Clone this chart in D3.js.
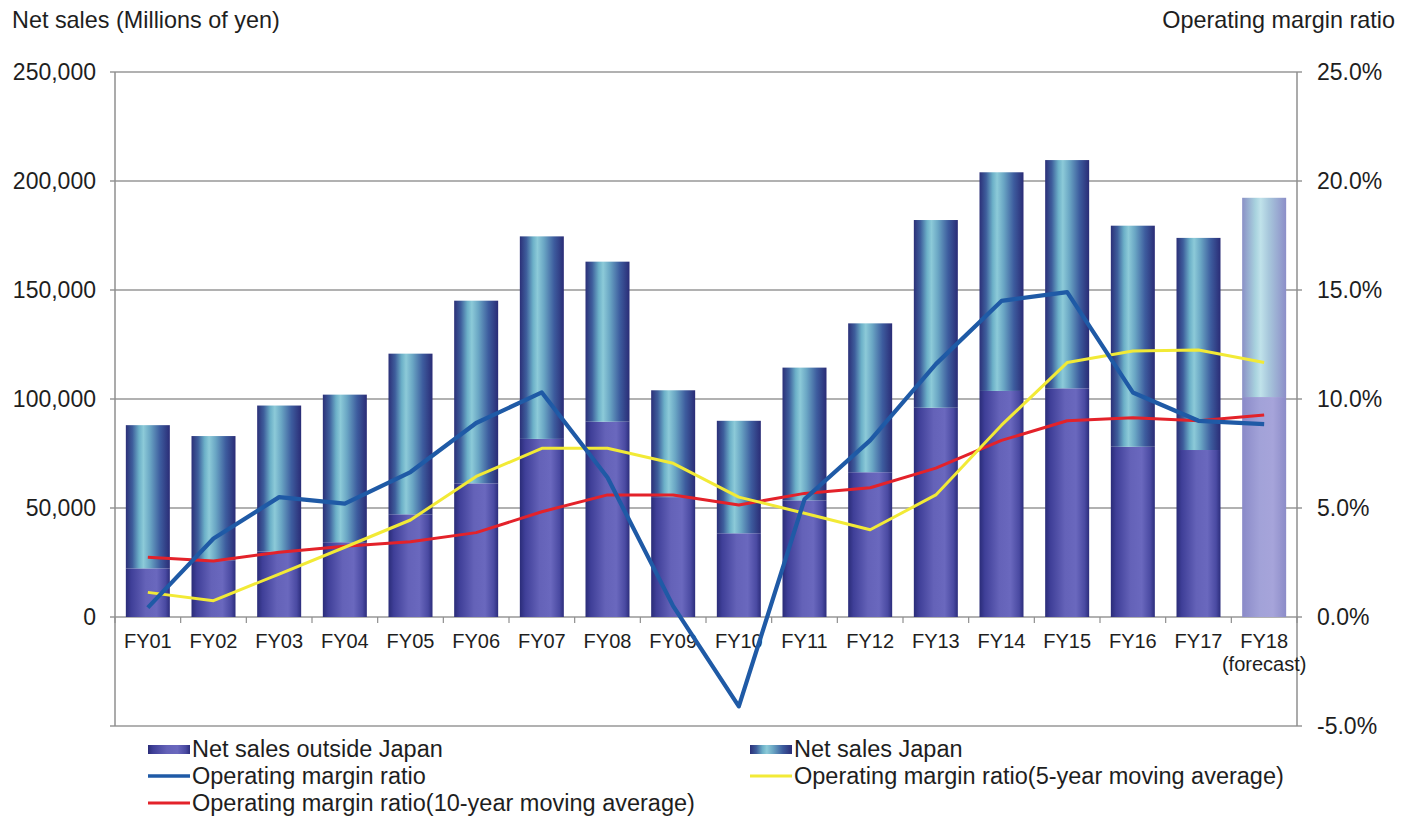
<!DOCTYPE html>
<html>
<head>
<meta charset="utf-8">
<script src="https://cdn.jsdelivr.net/npm/d3@7"></script>
<style>
  html, body { margin: 0; padding: 0; background: #ffffff; }
  svg { display: block; font-family: "Liberation Sans", Arial, sans-serif; }
</style>
</head>
<body>
<svg id="chart" width="1412" height="821"></svg>
<script>
// Fiscal years
const categories = ["FY01","FY02","FY03","FY04","FY05","FY06","FY07","FY08","FY09",
                    "FY10","FY11","FY12","FY13","FY14","FY15","FY16","FY17","FY18"];
const forecastNote = "(forecast)";

// Net sales, millions of yen
const salesOutsideJapan = [22300, 26000, 30000, 34300, 47100, 61300, 81700, 89600, 55000,
                           38400, 53500, 66400, 96000, 103700, 104900, 78100, 76600, 100900];
const salesJapan = [65700, 57000, 67000, 67700, 73700, 83800, 92900, 73400, 49000,
                    51600, 60900, 68300, 86100, 100300, 104700, 101400, 97300, 91400];

// Operating margin ratio, percent
const opMargin = [0.43, 3.6, 5.5, 5.2, 6.65, 8.9, 10.3, 6.4, 0.5,
                  -4.1, 5.4, 8.1, 11.6, 14.5, 14.9, 10.3, 9.0, 8.85];
const opMargin5y = [1.13, 0.75, 1.97, 3.2, 4.45, 6.45, 7.74, 7.74, 7.05,
                    5.5, 4.76, 4.0, 5.6, 8.8, 11.67, 12.2, 12.25, 11.67];
const opMargin10y = [2.74, 2.57, 2.97, 3.25, 3.45, 3.87, 4.83, 5.6, 5.6,
                     5.14, 5.67, 5.93, 6.83, 8.1, 9.0, 9.14, 9.0, 9.27];

// Axis ticks
const salesTicks = [-50000, 0, 50000, 100000, 150000, 200000, 250000];
const salesTickLabels = ["", "0", "50,000", "100,000", "150,000", "200,000", "250,000"];
const marginTicks = [-5, 0, 5, 10, 15, 20, 25];
const marginTickLabels = ["-5.0%", "0.0%", "5.0%", "10.0%", "15.0%", "20.0%", "25.0%"];

const forecastIndex = 17;

(function () {
  const svg = d3.select("#chart");
  const plotLeft = 115, plotRight = 1297, plotTop = 72, plotBottom = 726;

  const x = d3.scaleBand().domain(categories).range([plotLeft, plotRight])
    .paddingInner(0.33).paddingOuter(0.165);
  const yL = d3.scaleLinear().domain([-50000, 250000]).range([plotBottom, plotTop]);
  const yR = d3.scaleLinear().domain([-5, 25]).range([plotBottom, plotTop]);

  // Bar gradients
  const defs = svg.append("defs");
  function grad(id, stops) {
    const g = defs.append("linearGradient").attr("id", id)
      .attr("x1", "0%").attr("x2", "100%").attr("y1", "0%").attr("y2", "0%");
    stops.forEach(([o, c]) => g.append("stop").attr("offset", o).attr("stop-color", c));
  }
  grad("gOut", [[0, "#2a2c78"], [0.12, "#3f3f98"], [0.45, "#6462b8"], [0.7, "#6a68be"], [0.9, "#4a4aa2"], [1, "#2c2d7c"]]);
  grad("gJp", [[0, "#2b3078"], [0.15, "#3e5e9c"], [0.3, "#6cb0c8"], [0.4, "#8ccad8"], [0.55, "#6aa6c4"], [0.78, "#3d5c9e"], [1, "#2a2c76"]]);
  grad("gOutF", [[0, "#8a8ac8"], [0.4, "#a2a2d8"], [0.7, "#a6a4da"], [1, "#8c8cc8"]]);
  grad("gJpF", [[0, "#8a90c6"], [0.3, "#a8d2de"], [0.42, "#c0e2ea"], [0.6, "#a8c8dc"], [1, "#8c8ec8"]]);

  // Gridlines
  svg.append("g").selectAll("line").data(salesTicks).join("line")
    .attr("x1", plotLeft - 5).attr("x2", plotRight + 5)
    .attr("y1", d => yL(d)).attr("y2", d => yL(d))
    .attr("stroke", "#979797").attr("stroke-width", 1.5);

  // Stacked bars: outside Japan at the bottom, Japan on top
  const bars = svg.append("g");
  categories.forEach((c, i) => {
    const bx = x(c), bw = x.bandwidth();
    const f = i === forecastIndex;
    const outTop = yL(salesOutsideJapan[i]);
    const jpTop = yL(salesOutsideJapan[i] + salesJapan[i]);
    bars.append("rect").attr("x", bx).attr("width", bw)
      .attr("y", outTop).attr("height", yL(0) - outTop)
      .attr("fill", f ? "url(#gOutF)" : "url(#gOut)");
    bars.append("rect").attr("x", bx).attr("width", bw)
      .attr("y", jpTop).attr("height", outTop - jpTop)
      .attr("fill", f ? "url(#gJpF)" : "url(#gJp)");
  });

  // Vertical axes
  const axisColor = "#8f8f8f";
  [plotLeft, plotRight].forEach(ax => {
    svg.append("line").attr("x1", ax).attr("x2", ax).attr("y1", plotTop).attr("y2", plotBottom)
      .attr("stroke", axisColor).attr("stroke-width", 1.5);
  });

  // Category tick marks on the zero line
  const bounds = d3.range(categories.length + 1).map(k => plotLeft + k * x.step());
  svg.append("g").selectAll("line").data(bounds).join("line")
    .attr("x1", d => d).attr("x2", d => d)
    .attr("y1", yL(0)).attr("y2", yL(0) + 6)
    .attr("stroke", axisColor).attr("stroke-width", 1.2);

  // Left axis labels
  svg.append("g").selectAll("text").data(salesTicks).join("text")
    .attr("x", 96).attr("y", d => yL(d)).attr("dy", "0.36em")
    .attr("text-anchor", "end").attr("font-size", 23).attr("fill", "#1e1e1e")
    .text((d, i) => salesTickLabels[i]);

  // Right axis labels
  svg.append("g").selectAll("text").data(marginTicks).join("text")
    .attr("x", 1317).attr("y", d => yR(d)).attr("dy", "0.36em")
    .attr("text-anchor", "start").attr("font-size", 23).attr("fill", "#1e1e1e")
    .text((d, i) => marginTickLabels[i]);

  // Category labels
  const xl = svg.append("g");
  categories.forEach((c, i) => {
    const cx = x(c) + x.bandwidth() / 2;
    xl.append("text").attr("x", cx).attr("y", 648).attr("text-anchor", "middle")
      .attr("font-size", 20).attr("fill", "#1e1e1e").text(c);
    if (i === forecastIndex) {
      xl.append("text").attr("x", cx).attr("y", 671).attr("text-anchor", "middle")
        .attr("font-size", 20).attr("fill", "#1e1e1e").text(forecastNote);
    }
  });

  // Axis titles
  svg.append("text").attr("x", 12).attr("y", 28).attr("font-size", 23.4).attr("fill", "#1e1e1e")
    .text("Net sales (Millions of yen)");
  svg.append("text").attr("x", 1395).attr("y", 28).attr("text-anchor", "end")
    .attr("font-size", 23.4).attr("fill", "#1e1e1e").text("Operating margin ratio");

  // Margin lines
  const lineGen = d3.line().x((d, i) => x(categories[i]) + x.bandwidth() / 2).y(d => yR(d));
  function drawLine(data, color, width) {
    svg.append("path").datum(data).attr("d", lineGen)
      .attr("fill", "none").attr("stroke", color).attr("stroke-width", width)
      .attr("stroke-linejoin", "round");
  }
  drawLine(opMargin10y, "#e3222a", 3);
  drawLine(opMargin5y, "#f2ea36", 3);
  drawLine(opMargin, "#1f5aa6", 4.2);

  // Legend
  const legend = svg.append("g").attr("font-size", 23.5).attr("fill", "#1e1e1e");
  const items = [
    { label: "Net sales outside Japan", type: "rect", fill: "url(#gOut)", x: 148, y: 757 },
    { label: "Net sales Japan", type: "rect", fill: "url(#gJp)", x: 750, y: 757 },
    { label: "Operating margin ratio", type: "line", color: "#1f5aa6", w: 3.5, x: 148, y: 784 },
    { label: "Operating margin ratio(5-year moving average)", type: "line", color: "#f2ea36", w: 3, x: 750, y: 784 },
    { label: "Operating margin ratio(10-year moving average)", type: "line", color: "#e3222a", w: 3, x: 148, y: 811 }
  ];
  items.forEach(it => {
    if (it.type === "rect") {
      legend.append("rect").attr("x", it.x).attr("y", it.y - 12).attr("width", 42).attr("height", 9)
        .attr("fill", it.fill);
    } else {
      legend.append("line").attr("x1", it.x).attr("x2", it.x + 42)
        .attr("y1", it.y - 8).attr("y2", it.y - 8)
        .attr("stroke", it.color).attr("stroke-width", it.w);
    }
    legend.append("text").attr("x", it.x + 44).attr("y", it.y).text(it.label);
  });
})();
</script>
</body>
</html>
